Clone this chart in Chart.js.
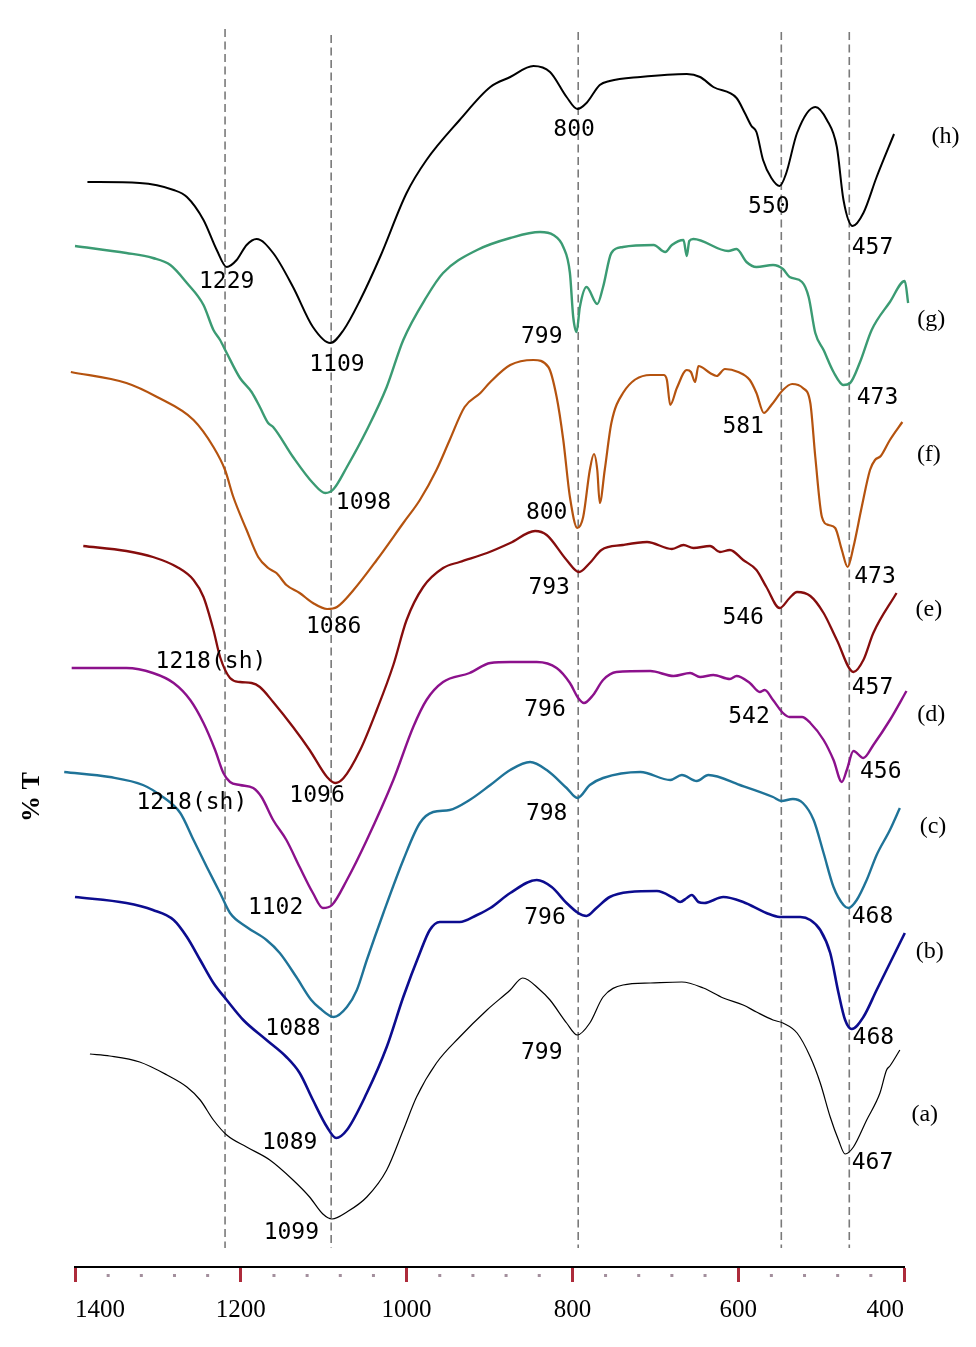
<!DOCTYPE html>
<html>
<head>
<meta charset="utf-8">
<title>FTIR spectra (a)-(h)</title>
<script src="https://cdn.jsdelivr.net/npm/chart.js@4.4.0/dist/chart.umd.min.js"></script>
<style>
    html, body { margin: 0; padding: 0; background: #ffffff; }
    #wrap { width: 976px; height: 1347px; }
</style>
</head>
<body>
<div id="wrap"><canvas id="ftirChart" width="976" height="1347"></canvas></div>
<script>
/**
 * FTIR spectra, stacked (% T, arbitrary offsets) vs wavenumber (cm-1)
 * Values.
 */

// Curve (h)
const waveH  = [1385, 1322, 1281, 1265, 1245, 1229, 1217, 1205, 1193, 1181, 1161, 1137, 1113, 1092, 1076, 1056, 1032, 1000, 976, 936, 899, 875, 847, 827, 807, 794, 783, 767, 755, 718, 662, 646, 630, 602, 592, 584, 578, 570, 560, 550, 542, 529, 507, 493, 481, 473, 462, 449, 433, 412];
const transH = [108.9, 108.8, 108.1, 107.4, 105.1, 102.1, 100.4, 101.1, 102.6, 103.2, 101.8, 98.4, 94.4, 92.8, 94.1, 97.1, 101.4, 107.8, 111.1, 115.1, 118.4, 119.4, 120.5, 119.9, 117.4, 116.2, 116.8, 118.6, 119.0, 119.4, 119.7, 119.4, 118.4, 117.3, 115.8, 114.5, 113.9, 111.1, 109.3, 108.5, 109.8, 113.8, 116.4, 115.1, 112.4, 107.1, 104.5, 105.8, 109.4, 113.7];

// Curve (g)
const waveG  = [1400, 1338, 1306, 1285, 1265, 1245, 1233, 1225, 1217, 1201, 1187, 1177, 1167, 1161, 1137, 1113, 1098, 1088, 1072, 1048, 1024, 1004, 976, 956, 915, 875, 839, 823, 811, 803, 799, 795, 791, 783, 770, 763, 753, 739, 702, 688, 680, 666, 662, 659, 654, 612, 602, 590, 578, 558, 546, 538, 523, 515, 507, 497, 485, 473, 465, 453, 439, 417, 399, 395];
const transG = [102.5, 101.8, 101.3, 100.6, 98.8, 96.6, 94.1, 93.1, 91.8, 89.3, 87.9, 86.4, 84.8, 84.4, 81.4, 78.8, 77.8, 78.2, 80.4, 84.1, 88.4, 93.1, 97.4, 99.8, 102.1, 103.3, 103.9, 103.6, 102.4, 99.8, 95.4, 93.9, 96.4, 98.4, 96.7, 98.4, 101.8, 102.4, 102.6, 101.9, 102.6, 103.1, 101.5, 103.0, 103.2, 102.0, 102.2, 100.9, 100.4, 100.6, 100.2, 99.4, 98.9, 97.4, 93.8, 92.1, 89.9, 88.6, 88.8, 90.9, 94.1, 96.9, 99.0, 96.8];

// Curve (f)
const waveF  = [1405, 1338, 1301, 1257, 1233, 1219, 1209, 1193, 1179, 1167, 1157, 1145, 1129, 1113, 1096, 1084, 1064, 1036, 1004, 984, 964, 948, 930, 911, 899, 875, 847, 829, 819, 811, 803, 794, 787, 779, 774, 770, 767, 761, 753, 739, 706, 690, 686, 682, 674, 662, 657, 652, 648, 634, 626, 616, 600, 586, 578, 569, 560, 546, 535, 522, 513, 507, 499, 491, 483, 475, 468, 461, 451, 441, 435, 428, 417, 402];
const transF = [89.9, 88.8, 87.4, 85.1, 82.4, 80.1, 77.4, 74.1, 71.4, 70.3, 69.8, 68.6, 67.8, 66.8, 66.2, 66.4, 68.1, 71.1, 74.8, 77.1, 80.1, 83.1, 86.4, 87.8, 88.9, 90.6, 91.1, 90.4, 87.4, 83.1, 77.4, 74.3, 75.4, 80.1, 81.7, 80.1, 76.8, 80.1, 84.8, 87.8, 89.6, 89.6, 89.1, 86.6, 88.3, 90.1, 89.9, 88.9, 90.5, 89.8, 89.5, 90.2, 89.9, 89.1, 87.8, 85.8, 86.6, 88.1, 88.7, 88.3, 86.8, 81.4, 75.4, 74.6, 74.3, 72.1, 70.4, 72.4, 76.4, 80.1, 81.1, 81.5, 83.1, 84.9];

// Curve (e)
const waveE  = [1390, 1338, 1306, 1277, 1257, 1245, 1233, 1225, 1213, 1201, 1187, 1177, 1161, 1137, 1117, 1096, 1086, 1076, 1056, 1036, 1016, 1000, 980, 956, 936, 903, 875, 845, 831, 807, 792, 779, 765, 739, 710, 680, 666, 654, 634, 622, 610, 594, 578, 566, 550, 538, 529, 513, 497, 481, 461, 449, 437, 409];
const transE = [72.5, 72.0, 71.4, 70.4, 69.1, 67.4, 64.1, 61.4, 59.3, 58.9, 58.8, 58.4, 56.9, 54.4, 52.1, 49.4, 48.8, 49.3, 52.1, 56.1, 60.6, 65.1, 68.4, 70.3, 70.9, 71.8, 72.8, 74.0, 73.6, 71.1, 69.9, 70.8, 72.1, 72.6, 72.9, 72.2, 72.6, 72.3, 72.5, 71.9, 72.1, 71.1, 70.1, 68.4, 66.3, 67.3, 67.9, 67.5, 65.8, 63.1, 59.9, 61.1, 63.8, 67.8];

// Curve (d)
const waveD  = [1404, 1338, 1306, 1281, 1261, 1245, 1231, 1221, 1213, 1201, 1185, 1175, 1161, 1145, 1129, 1113, 1101, 1090, 1072, 1048, 1016, 992, 976, 956, 924, 899, 875, 843, 819, 803, 793, 786, 775, 763, 747, 706, 678, 658, 646, 630, 610, 602, 586, 574, 568, 558, 546, 538, 523, 513, 497, 485, 475, 469, 461, 449, 437, 417, 397];
const transD = [60.3, 60.3, 59.8, 58.8, 57.1, 54.8, 52.1, 49.8, 48.9, 48.6, 48.3, 47.4, 45.1, 43.1, 40.4, 37.8, 36.3, 36.6, 39.1, 43.1, 49.1, 54.4, 57.1, 58.9, 59.8, 60.8, 60.9, 60.9, 60.3, 58.8, 57.3, 56.8, 57.6, 59.1, 59.9, 60.0, 59.5, 59.8, 59.4, 59.6, 59.2, 59.5, 58.8, 57.9, 58.1, 57.1, 55.8, 55.4, 55.4, 54.8, 53.1, 51.1, 48.9, 50.1, 52.0, 51.3, 52.6, 55.1, 58.0];

// Curve (c)
const waveC  = [1413, 1358, 1318, 1294, 1273, 1257, 1241, 1225, 1213, 1193, 1169, 1153, 1133, 1115, 1105, 1088, 1072, 1060, 1048, 1028, 1004, 984, 968, 948, 924, 899, 875, 851, 831, 807, 794, 779, 763, 718, 682, 668, 650, 636, 598, 558, 548, 534, 522, 509, 497, 485, 473, 467, 457, 445, 433, 417, 405];
const transC = [49.9, 49.4, 48.6, 47.4, 45.8, 43.1, 40.4, 37.8, 35.8, 34.4, 33.1, 31.8, 29.4, 27.1, 26.3, 25.4, 26.4, 28.1, 31.1, 35.8, 41.1, 44.8, 45.9, 46.1, 47.1, 48.6, 50.1, 50.9, 50.1, 48.3, 47.3, 48.6, 49.3, 49.9, 49.1, 49.6, 49.0, 49.6, 48.6, 47.4, 47.0, 47.2, 46.8, 45.1, 41.8, 38.4, 36.6, 36.3, 37.1, 39.1, 41.6, 44.1, 46.3];

// Curve (b)
const waveB  = [1400, 1338, 1306, 1281, 1265, 1249, 1233, 1217, 1197, 1169, 1145, 1129, 1113, 1096, 1085, 1072, 1048, 1024, 1004, 984, 972, 960, 936, 915, 899, 875, 843, 825, 807, 793, 783, 771, 755, 731, 698, 678, 670, 662, 656, 648, 641, 618, 594, 566, 550, 525, 513, 501, 489, 479, 471, 463, 449, 433, 399];
const transB = [37.4, 36.8, 36.1, 35.1, 33.4, 31.1, 28.8, 27.1, 25.1, 23.1, 21.4, 19.8, 17.1, 14.4, 13.3, 14.1, 17.8, 22.4, 27.4, 31.8, 34.1, 34.9, 34.9, 35.6, 36.3, 37.8, 39.1, 38.4, 36.8, 35.8, 35.5, 36.3, 37.4, 37.9, 38.0, 37.3, 36.9, 37.3, 37.6, 36.9, 36.8, 37.4, 36.9, 35.8, 35.4, 35.4, 35.1, 34.1, 31.8, 27.8, 25.1, 24.2, 25.4, 28.1, 33.8];

// Curve (a)
const waveA  = [1382, 1358, 1322, 1289, 1265, 1249, 1233, 1217, 1193, 1165, 1137, 1117, 1101, 1090, 1072, 1048, 1024, 1004, 988, 964, 936, 903, 875, 860, 839, 827, 807, 794, 779, 763, 739, 706, 668, 642, 618, 594, 578, 558, 546, 529, 513, 501, 489, 479, 471, 461, 445, 429, 421, 417, 405];
const transA = [21.7, 21.5, 20.9, 19.6, 18.4, 17.1, 15.1, 13.6, 12.4, 11.1, 9.1, 7.4, 5.7, 5.2, 5.9, 7.4, 10.1, 14.1, 17.4, 20.8, 23.4, 26.1, 28.1, 29.3, 28.1, 27.1, 24.8, 23.6, 24.8, 27.4, 28.6, 28.8, 28.9, 28.3, 27.3, 26.6, 25.9, 25.1, 24.8, 23.8, 21.4, 18.8, 15.4, 13.1, 11.7, 12.4, 15.1, 17.8, 20.1, 20.5, 22.1];

// Dashed guide lines
const guideWave   = [1219, 1091, 793, 548, 466];
const guideTop    = [124.2, 123.6, 123.9, 123.9, 123.9];
const guideBottom = 2.3;

// Axis ticks
const majorTicks = [1400, 1200, 1000, 800, 600, 400];
const minorTicks = [1360, 1320, 1280, 1240, 1160, 1120, 1080, 1040, 960, 920, 880, 840,
                    760, 720, 680, 640, 560, 520, 480, 440];

// Peak annotations
const peakText  = ['1229', '1109', '800', '550', '457',
                   '799', '1098', '473',
                   '581', '800', '1086', '473',
                   '1218(sh)', '793', '546', '1096', '457',
                   '1218(sh)', '1102', '796', '542', '456',
                   '1088', '798', '468',
                   '1089', '796', '468',
                   '1099', '799', '467'];
const peakWave  = [1217, 1084, 798, 563, 438,
                   837, 1052, 432,
                   594, 831, 1088, 435,
                   1236, 828, 594, 1108, 438,
                   1259, 1158, 833, 587, 428,
                   1137, 831, 438,
                   1141, 833, 437,
                   1139, 837, 438];
const peakTrans = [98.9, 90.6, 114.1, 106.4, 102.3,
                   93.4, 76.8, 87.3,
                   84.4, 75.8, 64.4, 69.4,
                   60.9, 68.3, 65.3, 47.5, 58.3,
                   46.8, 36.3, 56.1, 55.4, 49.9,
                   24.2, 45.7, 35.4,
                   12.8, 35.3, 23.3,
                   3.8, 21.8, 10.8];

// Sample tags
const tagText  = ['(h)', '(g)', '(f)', '(e)', '(d)', '(c)', '(b)', '(a)'];
const tagWave  = [350, 367, 370, 370, 367, 365, 369, 375];
const tagTrans = [113.4, 95.1, 81.6, 66.1, 55.6, 44.4, 31.9, 15.6];

/**
 * Zip wavenumber / transmittance arrays into {x, y} points
 */
function toPoints(waves, trans) {
    return waves.map((w, i) => ({ x: w, y: trans[i] }));
}

/**
 * Build one spectrum dataset
 */
function spectrum(label, waves, trans, color, width) {
    return {
        label: label,
        data: toPoints(waves, trans),
        borderColor: color,
        borderWidth: width,
        pointRadius: 0,
        cubicInterpolationMode: 'monotone',
        clip: false,
        order: 1
    };
}

/**
 * Build the vertical dashed guide datasets
 */
function guideLines() {
    return guideWave.map((w, i) => ({
        label: 'guide ' + i,
        data: [{ x: w, y: guideTop[i] }, { x: w, y: guideBottom }],
        borderColor: '#7a7a7a',
        borderWidth: 1.6,
        borderDash: [8, 4.5],
        pointRadius: 0,
        order: 10
    }));
}

// Small dots between the major ticks of the wavenumber axis
const minorDots = {
    id: 'minorDots',
    afterDraw(chart) {
        const xs = chart.scales.x;
        const ctx = chart.ctx;
        ctx.save();
        ctx.fillStyle = '#a38f9d';
        minorTicks.forEach(v => {
            const px = xs.getPixelForValue(v);
            ctx.fillRect(px - 1.5, xs.top + 7, 3, 3);
        });
        ctx.restore();
    }
};

// Peak positions, sample tags and the % T title
const annotations = {
    id: 'annotations',
    afterDatasetsDraw(chart) {
        const { ctx, scales: { x, y }, chartArea } = chart;
        ctx.save();
        ctx.fillStyle = '#000';
        ctx.textAlign = 'center';
        ctx.textBaseline = 'middle';

        ctx.font = '23px "DejaVu Sans Mono", monospace';
        peakText.forEach((t, i) => {
            ctx.fillText(t, x.getPixelForValue(peakWave[i]), y.getPixelForValue(peakTrans[i]));
        });

        ctx.font = '24px "Liberation Serif", "Times New Roman", serif';
        tagText.forEach((t, i) => {
            ctx.fillText(t, x.getPixelForValue(tagWave[i]), y.getPixelForValue(tagTrans[i]));
        });

        // y-axis title
        ctx.translate(chartArea.left - 43, chartArea.top + 797);
        ctx.rotate(-Math.PI / 2);
        ctx.font = 'bold 26px "Liberation Serif", "Times New Roman", serif';
        ctx.fillText('% T', 0, 0);
        ctx.restore();
    }
};

const datasets = [
    spectrum('(h)', waveH, transH, '#000000', 2),
    spectrum('(g)', waveG, transG, '#3b9b73', 2.4),
    spectrum('(f)', waveF, transF, '#b5530f', 2.2),
    spectrum('(e)', waveE, transE, '#860d0d', 2.3),
    spectrum('(d)', waveD, transD, '#8c118c', 2.4),
    spectrum('(c)', waveC, transC, '#1f7398', 2.4),
    spectrum('(b)', waveB, transB, '#0c0c8f', 2.6),
    spectrum('(a)', waveA, transA, '#000000', 1.2)
].concat(guideLines());

new Chart(document.getElementById('ftirChart'), {
    type: 'line',
    data: { datasets: datasets },
    options: {
        responsive: false,
        animation: false,
        layout: { padding: { left: 75, right: 72, top: 0, bottom: 9 } },
        plugins: {
            legend: { display: false },
            tooltip: { enabled: false }
        },
        scales: {
            x: {
                type: 'linear',
                reverse: true,
                min: 400,
                max: 1400,
                afterBuildTicks: scale => {
                    scale.ticks = majorTicks.slice().reverse().map(v => ({ value: v }));
                },
                border: { display: true, color: '#000000', width: 2 },
                grid: {
                    drawOnChartArea: false,
                    drawTicks: true,
                    tickLength: 15,
                    color: '#ad2b3b',
                    tickColor: '#ad2b3b',
                    tickWidth: 3
                },
                ticks: {
                    align: 'inner',
                    padding: 13,
                    maxRotation: 0,
                    autoSkip: false,
                    color: '#000000',
                    font: { family: '"Liberation Serif", "Times New Roman", serif', size: 25 },
                    callback: value => String(value)
                }
            },
            y: {
                display: false,
                min: 0.4,
                max: 127.1
            }
        }
    },
    plugins: [minorDots, annotations]
});
</script>
</body>
</html>
